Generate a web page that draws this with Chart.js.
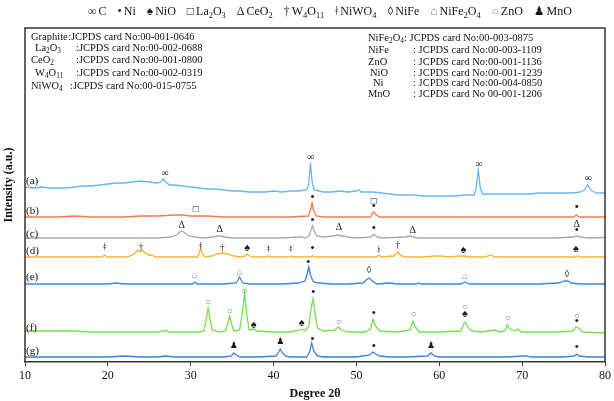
<!DOCTYPE html>
<html>
<head>
<meta charset="utf-8">
<script src="https://cdn.jsdelivr.net/npm/chart.js@4"></script>
<style>
html, body { margin: 0; background: #fff; }
#wrap { width: 614px; height: 401px; }
</style>
</head>
<body>
<div id="wrap"><canvas id="xrdChart"></canvas></div>
<script>
// 2-theta range and tick labels
const xTicks = [10, 20, 30, 40, 50, 60, 70, 80];

// Patterns (a)..(g), stacked with offsets, [2theta, intensity a.u.]
const traceA = [[10,175],[11,174],[12,175],[13,174],[14,174],[15,174],[16,175],[17,176],[18,176],[19,177],[20,178],[21,179],[22,179],[23,180],[24,181],[25,180],[26,179],[26.4,180],[26.7,183],[27.0,180],[27.4,177],[28,177],[29,176],[30,175],[31,174],[32,173],[33,173],[34,172],[35,171],[36,171],[37,170],[38,170],[39,170],[40,171],[41,170],[42,171],[43,171],[44.0,172],[44.25,178],[44.45,199],[44.65,180],[44.9,172],[45.5,171],[46,170],[47,170],[48,171],[49,170],[50,171],[50.3,172],[50.6,170],[52,170],[53,169],[54,168],[55,167],[56,167],[57,167],[58,166],[59,166],[60,166],[61,166],[62,166],[63,167],[64.2,167],[64.45,174],[64.7,192],[64.95,174],[65.2,168],[66,168],[67,168],[68,168],[69,168],[70,168],[71,168],[72,169],[73,169],[74,169],[75,169],[76,169],[77,170],[77.5,172],[77.9,177],[78.3,172],[78.7,170],[79,169],[80,169]];
const traceB = [[10,145],[12,145],[14,145],[16,146],[18,145],[20,145],[22,145],[24,146],[26,146],[28,147],[29,147],[30,146],[32,146],[34,145],[36,145],[38,145],[40,145],[42,145],[44.2,146],[44.45,152],[44.65,159],[44.85,151],[45.2,146],[46,145],[48,145],[50,145],[51.7,145],[51.95,149],[52.15,150],[52.4,147],[52.8,145],[54,145],[56,145],[58,145],[60,145],[62,145],[64,145],[66,145],[68,145],[70,145],[72,145],[74,145],[76.2,145],[76.55,147],[76.9,145],[78,145],[80,145]];
const traceC = [[10,124],[12,124],[14,124],[16,124],[18,124],[20,124],[22,124],[24,124],[26,124],[27.5,125],[28.3,127],[28.7,130],[28.95,131],[29.3,129],[29.8,126],[30.5,125],[31.5,124],[32.6,125],[33.3,126],[33.6,126],[34.1,125],[35,124],[37,124],[39,124],[41,124],[43,125],[43.4,125],[43.8,124],[44.3,126],[44.55,133],[44.7,136],[44.85,132],[45.2,126],[46,125],[47.2,126],[47.8,127],[48.3,126],[49,125],[50,124],[51.7,125],[52.0,127],[52.2,127],[52.5,125],[53,124],[55.8,125],[56.5,126],[56.9,125],[57.4,124],[59,124],[62,124],[65,124],[68,124],[71,124],[74,124],[76.2,125],[76.55,126],[77,125],[78,124],[80,124.5]];
const traceD = [[10,105],[12,105],[14,105],[16,105],[18,105],[19.3,105],[19.6,107],[19.9,105],[21,105],[22.4,105],[22.9,107],[23.3,109],[23.6,112],[23.85,110],[24.15,112],[24.5,109],[24.9,107],[25.3,107],[25.7,105],[27,105],[28.5,105],[29.5,105],[30.8,105],[31.05,109],[31.2,114],[31.4,109],[31.7,105],[32.5,106],[33.2,108],[33.8,109],[34.4,108],[35.2,106],[36,105],[36.6,106],[36.8,108],[37.1,106],[37.5,105],[39.1,105],[39.4,106],[39.7,105],[41.8,105],[42.1,106],[42.4,105],[44.4,105],[44.7,106],[45,105],[48,105],[52.4,105],[52.7,107],[53,105],[54.5,106],[55,110],[55.4,106],[56,105],[58,105],[59.6,106],[60.2,106],[61,105],[62.5,106],[63,106],[63.5,105],[65.5,105],[66.2,107],[66.7,105],[68,105],[70,105],[72,105],[74,105],[76.3,105],[76.6,106],[77,105],[80,105]];
const traceE = [[10,78],[12,78],[14,78],[16,78],[18,78],[20,78],[21,79],[22,78],[24,78],[26,78],[28,78],[30.2,78],[30.5,80],[30.8,78],[32,78],[34,78],[35.5,79],[35.9,85],[36.3,79],[37,78],[39,78],[41,78],[43,79],[43.8,81],[44.05,88],[44.25,95],[44.45,87],[44.8,80],[45.5,79],[47,78],[49,78],[50.8,79],[51.3,83],[51.55,84],[51.9,81],[52.5,78],[54,79],[55,78],[57.2,78],[57.5,79],[57.8,78],[60,78],[62.6,78],[63.1,80],[63.6,78],[66,78],[68,78],[70,78],[72,78],[74.4,79],[75.1,81],[75.5,81],[76,79],[77,78],[80,78]];
const traceF = [[10,31],[12,31],[14,31],[16,31],[18,30],[20,30],[22,30],[24,30],[26,30],[26.8,31],[27.0,32],[27.3,30],[29,30],[31,30],[31.6,31],[31.9,44],[32.1,54],[32.3,44],[32.6,32],[33.5,30],[34.2,31],[34.5,40],[34.7,46],[34.9,39],[35.2,31],[35.9,32],[36.25,50],[36.5,69],[36.75,48],[37.05,32],[37.6,33],[38,31],[40,30],[42,30],[43.1,32],[43.4,33],[43.8,31],[44.25,36],[44.55,55],[44.75,63],[44.95,52],[45.3,34],[46,31],[47.4,32],[47.8,35],[48.2,32],[49,30],[51,30],[51.7,33],[52.0,43],[52.3,36],[52.8,31],[55,30],[56.5,32],[56.8,41],[57.1,35],[57.6,30],[60,30],[62.6,31],[62.95,38],[63.15,40],[63.4,35],[63.9,31],[65,30],[66.8,32],[67.2,30],[67.9,31],[68.2,37],[68.5,33],[69.2,31],[69.5,33],[69.9,30],[72,30],[74,30],[76.1,31],[76.5,35],[76.8,34],[77.3,30],[80,29]];
const traceG = [[10,5],[12,5],[14,5],[16,5],[18,5],[20,5],[22,6],[24,5],[26,5],[27,6],[28,5],[30,5],[32,5],[34,5],[34.9,6],[35.2,9],[35.5,7],[36,5],[38,5],[40.3,6],[40.6,10],[40.8,13],[41.0,10],[41.4,6],[42,5],[44,5],[44.35,10],[44.6,19],[44.85,11],[45.3,6],[46,5],[48,5],[50,5],[51.6,7],[52.0,10],[52.3,8],[52.8,6],[54,5],[56,5],[58.6,6],[59.0,9],[59.4,6],[60,5],[62,5],[64,5],[66,5],[68,5],[70.2,6],[70.6,6],[71,5],[73,5],[75,5],[76.3,6],[76.6,8],[76.9,6],[78,5],[80,5]];

const traceNames = ['(a)', '(b)', '(c)', '(d)', '(e)', '(f)', '(g)'];
const traceLabelY = [181, 151, 128, 111, 85, 34, 11];

// Phase markers [2theta, height, phase]
const markersA = [[26.9,189,'C'],[44.5,205,'C'],[64.8,198,'C'],[78.0,184,'C']];
const markersB = [[30.6,153,'La2O3'],[44.7,164,'Ni'],[52.1,161,'La2O3'],[52.1,155,'Ni'],[76.6,154,'Ni']];
const markersC = [[28.9,137,'CeO2'],[33.5,133,'CeO2'],[44.7,141,'Ni'],[47.9,135,'CeO2'],[52.1,133,'Ni'],[56.8,132,'CeO2'],[76.6,138,'CeO2'],[76.6,131,'Ni']];
const markersD = [[19.6,115,'NiWO4'],[24.0,115,'W4O11'],[31.2,116,'NiWO4'],[33.8,114,'W4O11'],[36.8,114,'NiO'],[39.4,113,'NiWO4'],[42.1,113,'NiWO4'],[44.7,113,'Ni'],[52.7,112,'NiWO4'],[55.0,117,'W4O11'],[62.9,112,'NiO'],[76.5,113,'NiO']];
const markersE = [[30.5,87,'NiFe2O4'],[35.9,90,'NiFe2O4'],[44.2,99,'Ni'],[51.5,92,'NiFe'],[63.1,86,'NiFe2O4'],[75.4,88,'NiFe']];
const markersF = [[32.1,60,'ZnO'],[34.7,51,'ZnO'],[36.5,71,'ZnO'],[37.6,37,'NiO'],[43.4,39,'NiO'],[44.8,69,'Ni'],[47.9,40,'ZnO'],[52.1,48,'Ni'],[56.9,48,'ZnO'],[63.1,55,'ZnO'],[63.1,48,'NiO'],[68.3,44,'ZnO'],[76.6,46,'ZnO'],[76.6,40,'Ni']];
const markersG = [[35.2,16,'MnO'],[40.8,20,'MnO'],[44.7,22,'Ni'],[52.1,15,'Ni'],[59.0,16,'MnO'],[76.6,14,'Ni']];

// Legend along the top
const legendPhases = ['C', 'Ni', 'NiO', 'La2O3', 'CeO2', 'W4O11', 'NiWO4', 'NiFe', 'NiFe2O4', 'ZnO', 'MnO'];
const symbolFor = { C: '∞', Ni: '•', NiO: '♠', La2O3: '□', CeO2: 'Δ', W4O11: '†', NiWO4: 'ǂ', NiFe: '◊', NiFe2O4: '⌂', ZnO: '○', MnO: '♟' };

// Reference cards
const cardsLeft = [['Graphite', ':JCPDS card No:00-001-0646'], ['La2O3', ':JCPDS card No:00-002-0688'], ['CeO2', ':JCPDS card No:00-001-0800'], ['W4O11', ':JCPDS card No:00-002-0319'], ['NiWO4', ':JCPDS card No:00-015-0755']];
const cardsRight = [['NiFe2O4', ': JCPDS card No:00-003-0875'], ['NiFe', ': JCPDS card No:00-003-1109'], ['ZnO', ': JCPDS card No:00-001-1136'], ['NiO', ': JCPDS card No:00-001-1239'], ['Ni', ': JCPDS card No:00-004-0850'], ['MnO', ': JCPDS card No 00-001-1206']];

const colors = ['#66b8ee', '#f47a4c', '#a7abb0', '#f6b728', '#3d86dc', '#74e04c', '#3d80d8'];
const traces = [traceA, traceB, traceC, traceD, traceE, traceF, traceG];
const allMarkers = [markersA, markersB, markersC, markersD, markersE, markersF, markersG];

const SERIF = "'Liberation Serif', 'DejaVu Serif', 'DejaVu Sans', serif";
const markerSize = { Ni: 13, NiO: 11, MnO: 9, NiWO4: 11 };

// draws a formula with digits as subscripts, returns the width
function drawFormula(ctx, text, x, y, size, measureOnly) {
    let cx = x;
    for (const ch of text) {
        const sub = /[0-9]/.test(ch);
        ctx.font = (sub ? size * 0.7 : size) + 'px ' + SERIF;
        if (!measureOnly) ctx.fillText(ch, cx, sub ? y + size * 0.3 : y);
        cx += ctx.measureText(ch).width;
    }
    return cx - x;
}

function symbolColor(phase) {
    return (phase === 'ZnO' || phase === 'NiFe2O4') ? '#7d88a3' : '#1a1a1a';
}

const decorPlugin = {
    id: 'decor',
    afterDraw(chart) {
        const ctx = chart.ctx;
        const area = chart.chartArea;
        const xs = chart.scales.x, ys = chart.scales.y;
        ctx.save();

        // frame
        ctx.strokeStyle = '#333';
        ctx.lineWidth = 1.5;
        ctx.beginPath();
        ctx.moveTo(area.left, area.bottom);
        ctx.lineTo(area.left, area.top);
        ctx.lineTo(area.right, area.top);
        ctx.lineTo(area.right, area.bottom);
        ctx.stroke();

        // y title
        ctx.fillStyle = '#111';
        ctx.font = 'bold 12px ' + SERIF;
        ctx.textAlign = 'center';
        ctx.textBaseline = 'middle';
        ctx.save();
        ctx.translate(9, 185);
        ctx.rotate(-Math.PI / 2);
        ctx.fillText('Intensity (a.u.)', 0, 0);
        ctx.restore();

        // pattern labels
        ctx.font = '11px ' + SERIF;
        ctx.textAlign = 'left';
        traceNames.forEach((name, i) => {
            ctx.fillText(name, area.left + 1, ys.getPixelForValue(traceLabelY[i]));
        });

        // phase markers
        ctx.textAlign = 'center';
        allMarkers.forEach(list => {
            list.forEach(([t, h, phase]) => {
                ctx.fillStyle = symbolColor(phase);
                ctx.font = (markerSize[phase] || 10) + 'px ' + SERIF;
                ctx.fillText(symbolFor[phase], xs.getPixelForValue(t), ys.getPixelForValue(h));
            });
        });

        // legend row
        ctx.textAlign = 'left';
        const size = 12;
        const widths = legendPhases.map(p => {
            ctx.font = size + 'px ' + SERIF;
            const sw = ctx.measureText(symbolFor[p]).width;
            return sw + 2 + drawFormula(ctx, p, 0, 0, size, true);
        });
        const gap = 11;
        const total = widths.reduce((s, w) => s + w, 0) + gap * (widths.length - 1);
        let lx = 330 - total / 2;
        legendPhases.forEach((p, i) => {
            ctx.fillStyle = symbolColor(p);
            ctx.font = size + 'px ' + SERIF;
            ctx.fillText(symbolFor[p], lx, 12);
            const sw = ctx.measureText(symbolFor[p]).width;
            ctx.fillStyle = '#111';
            drawFormula(ctx, p, lx + sw + 2, 12, size, false);
            lx += widths[i] + gap;
        });

        // reference cards
        ctx.fillStyle = '#111';
        const leftRows = [37, 48, 60, 73, 86];
        const leftLabelX = [31, 35, 31, 35, 31];
        const leftColonX = [68, 76, 76, 76, 70];
        cardsLeft.forEach(([f, txt], i) => {
            drawFormula(ctx, f, leftLabelX[i], leftRows[i], 10.5, false);
            ctx.font = '10.5px ' + SERIF;
            ctx.fillText(txt, leftColonX[i], leftRows[i]);
        });
        const rightRows = [38, 50, 62, 73, 83, 94];
        const rightLabelX = [368, 368, 368, 370, 373, 368];
        const rightColonX = [404, 413, 413, 413, 413, 413];
        cardsRight.forEach(([f, txt], i) => {
            drawFormula(ctx, f, rightLabelX[i], rightRows[i], 10.5, false);
            ctx.font = '10.5px ' + SERIF;
            ctx.fillText(txt, rightColonX[i], rightRows[i]);
        });

        ctx.restore();
    }
};

document.addEventListener('DOMContentLoaded', function() {
    const ctx = document.getElementById('xrdChart').getContext('2d');
    new Chart(ctx, {
        type: 'line',
        data: {
            datasets: traces.map((t, i) => ({
                label: traceNames[i],
                data: t,
                borderColor: colors[i],
                borderWidth: 1.3,
                pointRadius: 0,
                tension: 0,
                fill: false
            }))
        },
        options: {
            animation: false,
            responsive: true,
            maintainAspectRatio: false,
            layout: { padding: { left: 25, right: 9, top: 28, bottom: 0 } },
            plugins: {
                legend: { display: false },
                tooltip: { enabled: false }
            },
            scales: {
                x: {
                    type: 'linear',
                    min: 10,
                    max: 80,
                    afterBuildTicks: axis => { axis.ticks = xTicks.map(v => ({ value: v })); },
                    afterFit: axis => { axis.height = 39; },
                    ticks: { color: '#111', font: { family: SERIF, size: 12 }, padding: 3, maxRotation: 0 },
                    grid: { drawOnChartArea: false, tickLength: 4, color: '#333' },
                    border: { color: '#333', width: 1.5 },
                    title: { display: true, text: 'Degree 2θ', color: '#111', font: { family: SERIF, size: 12, weight: 'bold' }, padding: 0 }
                },
                y: { display: false, min: 0, max: 334 }
            }
        },
        plugins: [decorPlugin]
    });
});
</script>
</body>
</html>
